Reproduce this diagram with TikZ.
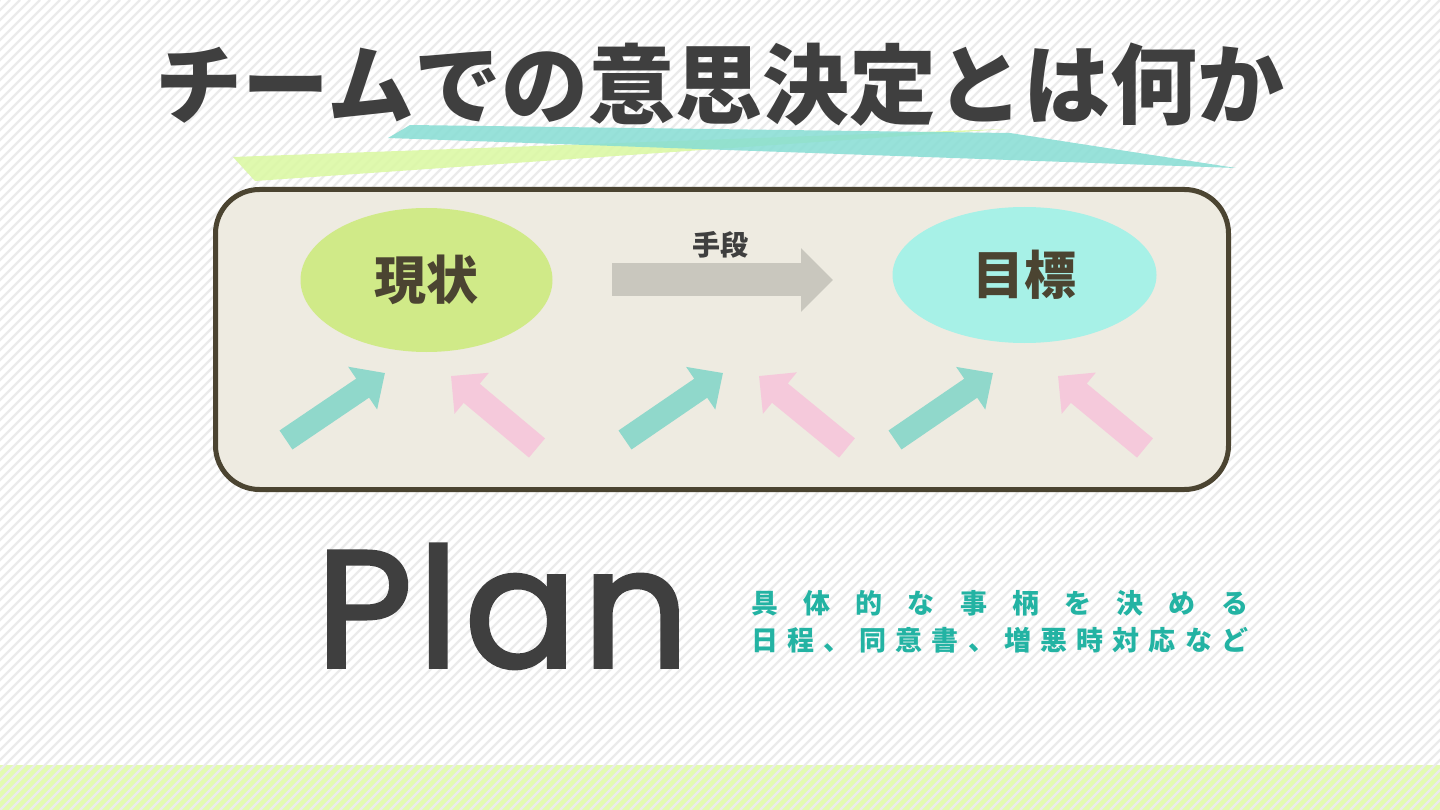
\documentclass[tikz,border=0pt]{standalone}
\usepackage{fontspec}
\usetikzlibrary{arrows.meta,shapes.geometric}
\newfontfamily\jp{Noto Sans CJK JP}
\newfontfamily\plainfont{Poppins}[FakeBold=2.2,LetterSpace=3.5]
\definecolor{stripe}{HTML}{EBEBEB}
\definecolor{band}{HTML}{E3FBB1}
\definecolor{brushteal}{HTML}{86DDD4}
\definecolor{brushlime}{HTML}{DAF8A0}
\definecolor{framefill}{HTML}{EEEBE1}
\definecolor{frameline}{HTML}{4B4431}
\definecolor{nowfill}{HTML}{D0EA88}
\definecolor{goalfill}{HTML}{A7F1E7}
\definecolor{midgray}{HTML}{C9C7BE}
\definecolor{darktext}{HTML}{3F3F3F}
\definecolor{tealarrow}{HTML}{90D8CB}
\definecolor{pinkarrow}{HTML}{F5C9DB}
\definecolor{noteteal}{HTML}{23B3A3}
\tikzset{
  oval/.style={ellipse, inner sep=0pt, minimum width=252pt, minimum height=144pt,
    font=\jp\bfseries\fontsize{52}{52}\selectfont, text=frameline},
  upteal/.style={draw=tealarrow, line width=23pt,
    -{Triangle[length=27pt,width=50pt]}},
  uppink/.style={draw=pinkarrow, line width=25pt,
    -{Triangle[length=27pt,width=52pt]}},
}
\begin{document}
\begin{tikzpicture}[x=1pt,y=-1pt]
\useasboundingbox (0,0) rectangle (1440,810);
% background
\fill[white] (0,0) rectangle (1440,810);
\fill[band] (0,765) rectangle (1440,810);
\begin{scope}
\clip (0,0) rectangle (1440,810);
\foreach \i in {-82,...,145} {
  \draw[stripe, line width=2.2pt] (\i*10,810) -- (\i*10+810,0);
}
\end{scope}
% title
\node[font=\jp\bfseries\fontsize{87}{87}\selectfont, text=darktext, inner sep=0pt]
  (title) at (720,85) {チームでの意思決定とは何か};
% brush strokes
\fill[brushlime, opacity=0.85] (233,157) -- (1005,129) -- (255,181) -- cycle;
\fill[brushteal, opacity=0.85] (388,138) -- (410,125) -- (1010,133) -- (1236,168) -- cycle;
% frame
\node[draw=frameline, fill=framefill, line width=5pt, rounded corners=44pt,
  minimum width=1013pt, minimum height=300pt, inner sep=0pt] (frame) at (722,339.5) {};
% ellipses
\node[oval, fill=nowfill] (now) at (426.5,280) {現状};
\node[oval, fill=goalfill, minimum width=264pt, minimum height=136pt] (goal) at (1024.5,275) {目標};
% means arrow
\coordinate (m1) at (612,280);
\coordinate (m2) at (833,280);
\draw[midgray, line width=33pt, -{Triangle[length=32pt,width=62pt]}] (m1) -- (m2);
\node[font=\jp\bfseries\fontsize{28}{28}\selectfont, text=darktext, inner sep=0pt]
  (means) at (720,245) {手段};
% small arrows
\coordinate (t1a) at (286,440); \coordinate (t1b) at (385,373);
\coordinate (p1a) at (537,448); \coordinate (p1b) at (451,376);
\coordinate (t2a) at (625,440); \coordinate (t2b) at (723,373);
\coordinate (p2a) at (847,448); \coordinate (p2b) at (759,376);
\coordinate (t3a) at (895,440); \coordinate (t3b) at (993,373);
\coordinate (p3a) at (1145,448); \coordinate (p3b) at (1058,376);
\draw[upteal] (t1a) -- (t1b);
\draw[uppink] (p1a) -- (p1b);
\draw[upteal] (t2a) -- (t2b);
\draw[uppink] (p2a) -- (p2b);
\draw[upteal] (t3a) -- (t3b);
\draw[uppink] (p3a) -- (p3b);
% Plan
\node[anchor=base west, inner sep=0pt, text=darktext,
  font=\plainfont\fontsize{166}{166}\selectfont] (plan) at (316,667) {Plan};
% notes
\node[anchor=west, inner sep=0pt, text=noteteal, font=\jp\bfseries\fontsize{27}{27}\selectfont]
  (note1) at (751,603) {\makebox[497pt][s]{具\hfill 体\hfill 的\hfill な\hfill 事\hfill 柄\hfill を\hfill 決\hfill め\hfill る}};
\node[anchor=west, inner sep=0pt, text=noteteal, font=\jp\bfseries\fontsize{27}{27}\selectfont]
  (note2) at (751,640) {\makebox[497pt][s]{日\hfill 程\hfill 、\hfill 同\hfill 意\hfill 書\hfill 、\hfill 増\hfill 悪\hfill 時\hfill 対\hfill 応\hfill な\hfill ど}};
\end{tikzpicture}
\end{document}
